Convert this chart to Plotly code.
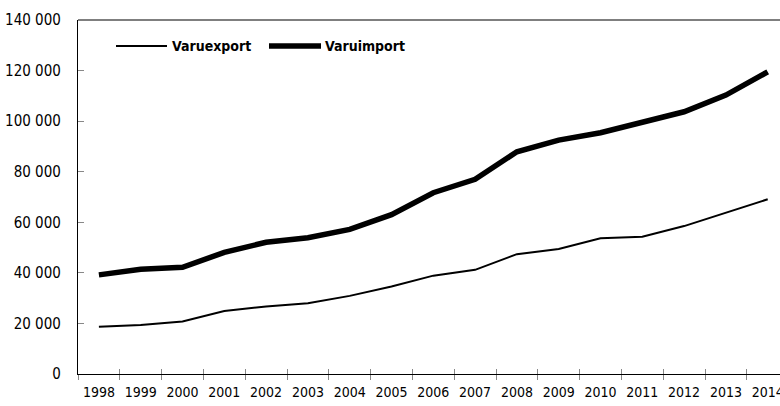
import plotly.graph_objects as go

years = list(range(1998, 2015))
varuexport = [18700, 19400, 20800, 24900, 26700, 28000, 30900, 34600, 38900,
              41200, 47400, 49400, 53700, 54300, 58500, 63800, 69100]
varuimport = [39200, 41400, 42200, 48100, 52100, 53900, 57200, 63000, 71700,
              77000, 87900, 92500, 95400, 99700, 103700, 110300, 119500]
y_tickvals = [0, 20000, 40000, 60000, 80000, 100000, 120000, 140000]
y_ticktext = ["0", "20 000", "40 000", "60 000", "80 000", "100 000", "120 000", "140 000"]
x_ticktext = [str(y) for y in years]
series_names = ["Varuexport", "Varuimport"]

FONT = "Liberation Sans Narrow, DejaVu Sans Condensed, DejaVu Sans, sans-serif"

W, H = 780, 406
L, R, T, B = 78, 0, 20, 32
plot_w = W - L - R
plot_h = H - T - B

x0 = years[0] - 0.5
x1 = x0 + plot_w / 41.8
boundaries = [years[0] - 0.5 + i for i in range(len(years) + 1)]

fig = go.Figure()
fig.add_trace(go.Scatter(x=years, y=varuexport, mode="lines", name=series_names[0],
                         line=dict(color="black", width=2), showlegend=False))
fig.add_trace(go.Scatter(x=years, y=varuimport, mode="lines", name=series_names[1],
                         line=dict(color="black", width=5.5), showlegend=False))
# empty trace to activate the overlay axis carrying the inside tick halves
fig.add_trace(go.Scatter(x=[], y=[], xaxis="x2", showlegend=False, hoverinfo="skip"))

fig.update_layout(
    width=W, height=H,
    margin=dict(l=L, r=R, t=T, b=B, autoexpand=False),
    paper_bgcolor="white", plot_bgcolor="white",
    font=dict(family=FONT, size=15, color="black"),
    showlegend=False,
    xaxis=dict(
        range=[x0, x1], tickmode="array", tickvals=years, ticktext=x_ticktext,
        ticks="", showgrid=False, zeroline=False,
        showline=True, linecolor="black", linewidth=1.3,
        mirror=False, ticklabelstandoff=5, tickangle=0, ticklabeloverflow="allow",
        minor=dict(tickmode="array", tickvals=boundaries, ticks="outside",
                   ticklen=5, tickcolor="#888888", tickwidth=1, showgrid=False),
        tickfont=dict(family=FONT, size=14, color="black"),
    ),
    xaxis2=dict(
        overlaying="x", matches="x", anchor="y", range=[x0, x1],
        tickmode="array", tickvals=boundaries, ticks="inside", ticklen=5,
        tickcolor="#888888", showticklabels=False, showgrid=False,
        zeroline=False, showline=False,
    ),
    yaxis=dict(
        range=[0, 140000], tickmode="array", tickvals=y_tickvals, ticktext=y_ticktext,
        ticks="inside", ticklen=6, tickcolor="#888888", showgrid=False, zeroline=False,
        showline=True, linecolor="black", linewidth=1.3, ticklabelstandoff=13,
        tickfont=dict(family=FONT, size=15, color="black"),
    ),
)

# top frame line
fig.add_shape(type="line", xref="paper", yref="paper", x0=0, x1=1, y0=1, y1=1,
              line=dict(color="#555555", width=1.3))

# manual legend (line samples + labels)
def px_to_paper_x(px):
    return (px - L) / plot_w

def py_to_paper_y(py):
    return (H - B - py) / plot_h

ly = py_to_paper_y(46)
fig.add_shape(type="line", xref="paper", yref="paper",
              x0=px_to_paper_x(116), x1=px_to_paper_x(167), y0=ly, y1=ly,
              line=dict(color="black", width=2))
fig.add_shape(type="line", xref="paper", yref="paper",
              x0=px_to_paper_x(269), x1=px_to_paper_x(321), y0=ly, y1=ly,
              line=dict(color="black", width=5.5))
fig.add_annotation(xref="paper", yref="paper", x=px_to_paper_x(170), y=ly,
                   text="<b>" + series_names[0] + "</b>", showarrow=False,
                   xanchor="left", yanchor="middle",
                   font=dict(family=FONT, size=14, color="black"))
fig.add_annotation(xref="paper", yref="paper", x=px_to_paper_x(323), y=ly,
                   text="<b>" + series_names[1] + "</b>", showarrow=False,
                   xanchor="left", yanchor="middle",
                   font=dict(family=FONT, size=14, color="black"))

fig.write_html("out.html", config={"displayModeBar": False},
               post_script="document.body.style.margin='0';")
